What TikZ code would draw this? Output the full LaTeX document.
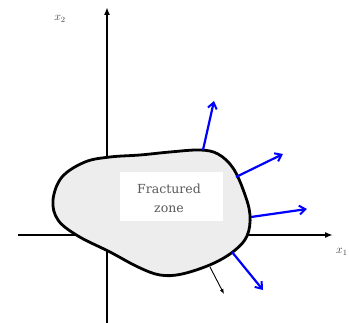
\documentclass[tikz,border=0pt]{standalone}
\usepackage{fontspec}
\newfontfamily\zonefont{DejaVu Serif}
\usetikzlibrary{arrows.meta}
\tikzset{
  axis/.style={line width=1.6pt,-{Latex[length=8pt,width=6pt]}},
  blob/.style={line width=2.8pt,fill=gray!14},
  flux/.style={blue,line width=2.2pt,-{Straight Barb[length=6pt,width=9pt,line width=2pt]}},
  small/.style={line width=0.9pt,-{Latex[length=5pt,width=4pt]}},
  lab/.style={font=\large,text=black!75}
}
\begin{document}
\begin{tikzpicture}[x=1pt,y=-1pt]
\useasboundingbox (0,0) rectangle (349,323);
% axes
\coordinate (xs) at (18,235);
\coordinate (xe) at (333,235);
\coordinate (ys) at (107,323);
\coordinate (ye) at (107,7);
\draw[axis] (xs) -- (xe);
\draw[axis] (ys) -- (ye);
\node[lab,anchor=west,inner sep=0pt] (x1) at (336,252) {$x_1$};
\node[lab] (x2) at (60,19) {$x_2$};
% fractured zone
\draw[blob] plot[smooth cycle,tension=0.6] coordinates {
 (53,200) (62,177) (85,162) (110,157) (140,155) (170,152) (200,150)
 (218,154) (233,168) (244,192) (250,215) (247,236) (234,251) (212,264)
 (182,274) (160,275) (138,267) (110,252) (78,236) (58,220)};
\node[fill=white,minimum width=103pt,minimum height=49pt,inner sep=0pt] (fz) at (171,197) {};
\node[font=\zonefont\fontsize{12.5}{19}\selectfont,text=black!65,align=center] (fzt) at (169,198) {Fractured\\zone};
% flux arrows
\coordinate (a1s) at (203,150); \coordinate (a1e) at (214,101);
\coordinate (a2s) at (236,177); \coordinate (a2e) at (283,154);
\coordinate (a3s) at (251,217); \coordinate (a3e) at (307,209);
\coordinate (a4s) at (232,252); \coordinate (a4e) at (263,290);
\draw[flux] (a1s) -- (a1e);
\draw[flux] (a2s) -- (a2e);
\draw[flux] (a3s) -- (a3e);
\draw[flux] (a4s) -- (a4e);
\coordinate (bs) at (210,267); \coordinate (be) at (224,294);
\draw[small] (bs) -- (be);
\end{tikzpicture}
\end{document}
